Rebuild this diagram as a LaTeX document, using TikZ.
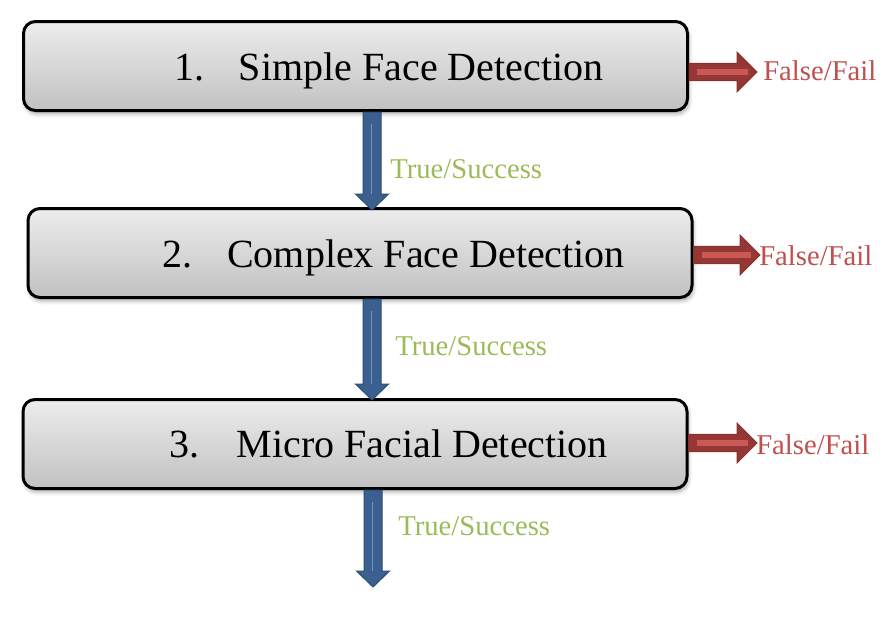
\documentclass[tikz,border=0pt]{standalone}
\usepackage{fontspec}
\setmainfont{Liberation Serif}
\usetikzlibrary{calc,shadows.blur}
\definecolor{bfill}{RGB}{59,96,143}
\definecolor{bline}{RGB}{44,77,117}
\definecolor{bhl}{RGB}{115,150,200}
\definecolor{rfill}{RGB}{149,55,53}
\definecolor{rline}{RGB}{135,50,48}
\definecolor{rhl}{RGB}{203,88,84}
\definecolor{redtxt}{RGB}{192,80,77}
\definecolor{greentxt}{RGB}{155,187,89}
\definecolor{boxtop}{RGB}{237,237,237}
\definecolor{boxbot}{RGB}{193,193,193}
\tikzset{
  stepbox/.style={draw=black, line width=2.25pt, rounded corners=9pt,
    top color=boxtop, bottom color=boxbot, minimum width=498pt,
    minimum height=66.75pt, inner sep=0pt,
    blur shadow={shadow xshift=1pt, shadow yshift=-2.5pt, shadow blur radius=3pt, shadow opacity=35}},
  steptext/.style={anchor=base west, inner sep=0pt, font=\fontsize{30pt}{36pt}\selectfont},
  oklabel/.style={anchor=base west, inner sep=0pt, text=greentxt, font=\fontsize{21.5pt}{26pt}\selectfont},
  faillabel/.style={anchor=base west, inner sep=0pt, text=redtxt, font=\fontsize{21.5pt}{26pt}\selectfont},
  blueflow/.style={fill=bfill, draw=bline, line width=0.75pt, line join=miter},
  bluehl/.style={draw=bhl, line width=0.75pt},
  redflow/.style={fill=rfill, draw=rline, line width=0.75pt, line join=miter},
  redhl/.style={draw=rhl, line width=4.5pt}
}
\newcommand\downflow[2]{%
  \path[blueflow] let \p1=(#1), \p2=(#2) in
    (\x1-6.75pt,\y1) -- (\x1+6.75pt,\y1) -- (\x1+6.75pt,\y2+12pt) -- (\x1+12.4pt,\y2+12pt)
    -- (\x1,\y2) -- (\x1-12.4pt,\y2+12pt) -- (\x1-6.75pt,\y2+12pt) -- cycle;
  \path[bluehl] let \p1=(#1), \p2=(#2) in (\x1-0.5pt,\y1-9pt) -- (\x1-0.5pt,\y2+12pt);
}
\newcommand\rightflow[2]{%
  \path[redflow] let \p1=(#1), \p2=(#2) in
    (\x1,\y2+6.5pt) -- (\x2-15pt,\y2+6.5pt) -- (\x2-15pt,\y2+15pt) -- (\x2,\y2)
    -- (\x2-15pt,\y2-15pt) -- (\x2-15pt,\y2-6.5pt) -- (\x1,\y2-6.5pt) -- cycle;
  \path[redhl] let \p1=(#1), \p2=(#2) in (\x1+6pt,\y2) -- (\x2-7pt,\y2);
}
\begin{document}
\begin{tikzpicture}[x=0.75pt,y=-0.75pt]
\useasboundingbox (0,0) rectangle (894,618);
% boxes
\node[stepbox] (b1) at (355.5,66) {};
\node[stepbox] (b2) at (360,253) {};
\node[stepbox] (b3) at (355,444) {};
% arrow end coordinates
\coordinate (t1) at (372,210);
\coordinate (t2) at (372,396);
\coordinate (t3) at (373,587);
\coordinate (f1) at (757,72);
\coordinate (f2) at (760,255);
\coordinate (f3) at (757,443);
% success arrows
\downflow{b1.south -| t1}{$(b2.north -| t1)+(0,3)$}
\downflow{b2.south -| t2}{$(b3.north -| t2)+(0,2)$}
\downflow{b3.south -| t3}{t3}
% fail arrows
\rightflow{b1.east |- f1}{f1}
\rightflow{b2.east |- f2}{f2}
\rightflow{b3.east |- f3}{f3}
% box texts
\node[steptext] (s1) at (174,80) {1.\hspace{26pt}Simple Face Detection};
\node[steptext] (s2) at (162,267) {2.\hspace{26.25pt}Complex Face Detection};
\node[steptext] (s3) at (169.5,457) {3.\hspace{27.75pt}Micro Facial Detection};
% labels
\node[oklabel] (ok1) at (390,178) {True/Success};
\node[oklabel] (ok2) at (395,355) {True/Success};
\node[oklabel] (ok3) at (398,535) {True/Success};
\node[faillabel] (no1) at (763,80) {False/Fail};
\node[faillabel] (no2) at (759,265) {False/Fail};
\node[faillabel] (no3) at (756,454) {False/Fail};
\end{tikzpicture}
\end{document}
